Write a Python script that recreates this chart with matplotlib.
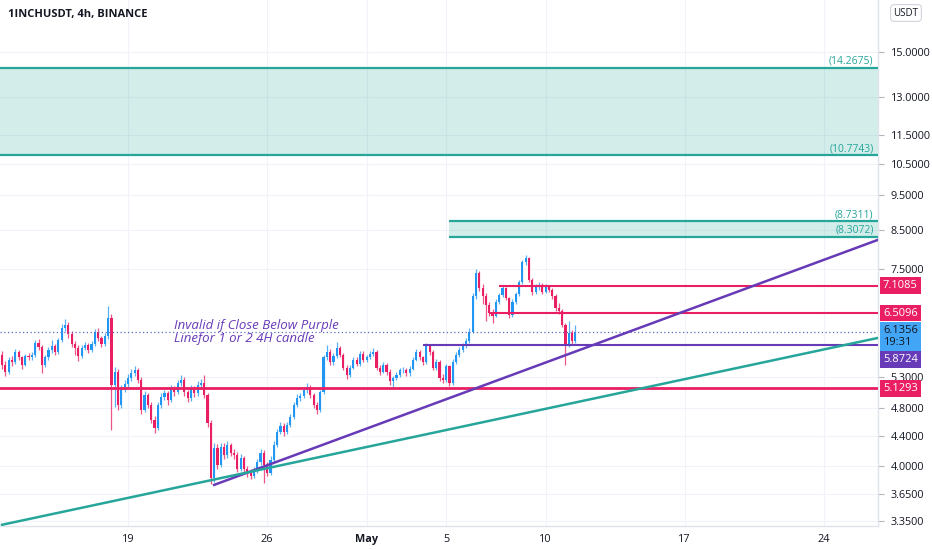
import matplotlib
matplotlib.use("Agg")
import matplotlib.pyplot as plt
import pandas as pd
from matplotlib.ticker import NullLocator

plt.rcParams['font.family'] = ['Open Sans', 'DejaVu Sans']

# ---------------- data ----------------
start = pd.Timestamp('2021-04-12 16:00')
first_open = 5.70
closes = [5.52,5.40,5.61,5.57,5.75,5.65,5.52,5.68,5.65,5.70,
 5.92,5.84,5.52,5.65,5.79,5.86,5.75,5.98,6.21,6.27,
 6.09,5.90,5.83,5.68,5.83,5.88,5.79,5.90,6.13,6.01,
 5.90,6.05,6.41,5.18,5.40,4.85,5.12,5.19,5.29,5.37,
 5.43,5.26,4.78,5.01,4.85,4.63,4.51,4.85,4.98,5.04,
 4.93,5.12,5.06,5.21,5.26,5.06,4.96,5.12,5.04,5.18,
 5.21,5.01,4.58,3.84,4.23,4.01,4.24,4.14,4.27,4.17,
 4.14,3.96,4.10,3.96,3.91,3.87,3.94,4.04,4.17,4.01,
 3.91,4.07,4.27,4.45,4.54,4.45,4.55,4.67,4.85,4.96,
 4.99,5.09,5.14,5.01,4.85,4.78,5.06,5.65,5.75,5.57,
 5.68,5.83,5.70,5.47,5.34,5.47,5.61,5.54,5.72,5.61,
 5.65,5.72,5.75,5.47,5.40,5.52,5.40,5.24,5.29,5.34,
 5.42,5.43,5.37,5.45,5.61,5.75,5.65,5.57,5.86,5.75,
 5.47,5.57,5.29,5.26,5.49,5.21,5.57,5.70,5.79,5.86,
 5.96,6.13,6.88,7.40,7.05,6.88,6.68,6.51,6.45,6.75,
 6.90,7.05,6.83,6.47,6.75,6.92,7.19,7.67,7.77,7.24,
 6.97,7.08,7.12,6.97,7.08,7.01,6.88,6.62,6.56,6.27,
 5.88,6.11,5.96,6.1356]
highs = [5.76,5.58,5.66,5.68,5.80,5.79,5.68,5.72,5.74,5.75,
 5.98,6.00,5.88,5.70,5.84,5.98,5.90,6.02,6.28,6.38,
 6.32,6.14,5.96,5.88,5.88,5.93,5.92,5.95,6.18,6.20,
 6.06,6.10,6.65,6.50,5.48,5.44,5.18,5.26,5.36,5.44,
 5.50,5.47,5.30,5.08,5.05,4.90,4.68,4.90,5.04,5.10,
 5.08,5.18,5.16,5.26,5.34,5.30,5.10,5.18,5.16,5.24,
 5.28,5.34,5.05,4.62,4.30,4.28,4.30,4.30,4.32,4.30,
 4.22,4.18,4.15,4.13,4.00,3.95,3.98,4.08,4.22,4.20,
 4.04,4.12,4.32,4.50,4.60,4.58,4.60,4.72,4.90,5.02,
 5.05,5.14,5.20,5.18,5.04,4.90,5.10,5.70,5.88,5.80,
 5.73,5.93,5.86,5.74,5.52,5.52,5.66,5.66,5.77,5.76,
 5.70,5.77,5.82,5.78,5.52,5.56,5.55,5.44,5.33,5.39,
 5.46,5.48,5.47,5.50,5.66,5.80,5.79,5.68,5.92,5.90,
 5.78,5.62,5.60,5.36,5.54,5.52,5.62,5.75,5.84,5.91,
 6.01,6.20,6.95,7.50,7.45,7.15,6.95,6.75,6.60,6.80,
 6.95,7.10,7.08,6.86,6.80,6.97,7.24,7.72,7.85,7.80,
 7.28,7.14,7.20,7.16,7.14,7.12,7.06,6.92,6.72,6.60,
 6.30,6.35,6.16,6.26]
lows = [5.45,5.33,5.36,5.50,5.53,5.60,5.45,5.49,5.60,5.60,
 5.66,5.78,5.38,5.48,5.60,5.74,5.70,5.72,5.94,6.14,
 6.02,5.84,5.70,5.58,5.64,5.78,5.74,5.75,5.86,5.96,
 5.85,5.86,6.00,4.48,4.82,4.78,4.80,5.06,5.14,5.24,
 5.32,5.20,4.72,4.74,4.80,4.58,4.44,4.48,4.80,4.93,
 4.86,4.90,5.00,5.02,5.16,5.00,4.90,4.92,4.98,5.00,
 5.12,4.96,4.52,3.77,3.80,3.95,3.98,4.08,4.10,4.12,
 4.08,3.92,3.93,3.92,3.86,3.83,3.84,3.91,4.01,3.78,
 3.87,3.88,4.04,4.24,4.42,4.40,4.42,4.52,4.64,4.82,
 4.92,4.96,5.05,4.96,4.80,4.72,4.75,5.03,5.60,5.52,
 5.52,5.64,5.65,5.42,5.28,5.30,5.44,5.50,5.50,5.56,
 5.57,5.62,5.68,5.42,5.35,5.37,5.35,5.18,5.14,5.25,
 5.30,5.38,5.33,5.33,5.42,5.58,5.60,5.52,5.54,5.70,
 5.42,5.43,5.24,5.20,5.22,5.15,5.18,5.54,5.66,5.75,
 5.82,5.92,6.10,6.82,6.98,6.70,6.35,6.45,6.30,6.42,
 6.70,6.85,6.78,6.40,6.44,6.70,6.88,7.15,7.60,7.18,
 6.90,6.92,7.02,6.92,6.94,6.96,6.82,6.56,6.50,6.22,
 5.52,5.84,5.90,5.92]
opens = [first_open] + closes[:-1]

zone_big = (10.7743, 14.2675)
zone_small = (8.3072, 8.7311)
zone_small_start = '2021-05-05 04:00'
res_lines = [(7.1085, '2021-05-07 16:00'), (6.5096, '2021-05-07 04:00')]
support_line = 5.1293
purple_level = (5.8724, '2021-05-03 20:00')
last_price = 6.1356
purple_trend = [('2021-04-23 08:00', 3.76), ('2021-05-28 00:00', 8.48)]
teal_trend = [('2021-04-12 16:00', 3.31), ('2021-05-28 00:00', 6.12)]
ytick_vals = [3.35, 3.65, 4.0, 4.4, 4.8, 5.3, 7.5, 8.5, 9.5, 10.5, 11.5, 13.0, 15.0]
xtick_dates = ['2021-04-19', '2021-04-26', '2021-05-01', '2021-05-05', '2021-05-10', '2021-05-17', '2021-05-24']
xtick_labels = ['19', '26', 'May', '5', '10', '17', '24']

def pos(ts):
    return (pd.Timestamp(ts) - start) / pd.Timedelta(hours=4)

# ---------------- figure ----------------
W, H = 932, 550
fig = plt.figure(figsize=(W / 100, H / 100), dpi=100)
ax = fig.add_axes([0, 1 - 526 / H, 878 / W, 526 / H])
ax.set_yscale('log')
ax.set_ylim(3.297, 17.71)
ax.set_xlim(-0.62, 264.3)

UP, DN = '#2196f3', '#e91e63'
TEAL, PINK, PURP = '#26a69a', '#e91e63', '#673ab7'

# candles
for i, (o, h, l, c) in enumerate(zip(opens, highs, lows, closes)):
    col = UP if c >= o else DN
    ax.vlines(i, l, h, color=col, lw=0.9, alpha=0.75, zorder=2)
    ax.bar(i, abs(c - o) if abs(c - o) > 0.004 else 0.01, bottom=min(o, c),
           width=0.65, color=col, lw=0, zorder=3)

# zones
ax.axhspan(zone_big[0], zone_big[1], color=TEAL, alpha=0.2, lw=0, zorder=1)
for v in zone_big:
    ax.axhline(v, color=TEAL, lw=1.6, zorder=4)
xs = pos(zone_small_start)
ax.fill_between([xs, 300], zone_small[0], zone_small[1], color=TEAL, alpha=0.2, lw=0, zorder=1)
for v in zone_small:
    ax.hlines(v, xs, 300, color=TEAL, lw=1.6, zorder=4)

lab_kw = dict(ha='right', va='bottom', fontsize=7.5, color=TEAL, zorder=6)
for v in list(zone_big) + list(zone_small):
    ax.annotate(f'({v:.4f})', xy=(0.995, v), xycoords=('axes fraction', 'data'),
                xytext=(0, 1), textcoords='offset pixels', **lab_kw)

# horizontal lines
for v, t in res_lines:
    ax.hlines(v, pos(t), 300, color=PINK, lw=1.5, zorder=4)
ax.axhline(support_line, color=PINK, lw=2, zorder=4)
ax.hlines(purple_level[0], pos(purple_level[1]), 300, color=PURP, lw=1.5, zorder=4)
ax.axhline(last_price, color='#5c6bc0', lw=0.9, ls=(0, (1, 2)), zorder=4)

# trend lines
ax.plot([pos(t) for t, _ in purple_trend], [p for _, p in purple_trend], color=PURP, lw=1.8, zorder=5)
ax.plot([pos(t) for t, _ in teal_trend], [p for _, p in teal_trend], color=TEAL, lw=1.8, zorder=5)

# annotation text
ax.text(pos('2021-04-21 08:00'), 6.13, 'Invalid if Close Below Purple\nLinefor 1 or 2 4H candle',
        fontsize=9.5, style='italic', color=PURP, ha='left', va='center', linespacing=0.95, zorder=6)

# axes styling
for s in ['top', 'left']:
    ax.spines[s].set_visible(False)
for s in ['right', 'bottom']:
    ax.spines[s].set_color('#e0e3eb')
    ax.spines[s].set_linewidth(1.0)
ax.yaxis.tick_right()
ax.set_yticks(ytick_vals)
ax.set_yticklabels([f'{v:.4f}' for v in ytick_vals])
ax.yaxis.set_minor_locator(NullLocator())
ax.tick_params(axis='y', which='major', length=4, color='#b2b5be', labelsize=7.8,
               labelcolor='#131722', pad=5)
ax.set_xticks([pos(d) for d in xtick_dates])
ax.set_xticklabels(xtick_labels)
ax.tick_params(axis='x', length=0, labelsize=7.8, labelcolor='#131722', pad=6)
for lab in ax.get_xticklabels():
    if lab.get_text() == 'May':
        lab.set_fontweight('bold')
ax.grid(True, color='#f0f3fa', lw=0.8, zorder=0)
ax.set_axisbelow(True)

# price tags on the axis
def tag(price, text, bg, fg, dy=0):
    ax.annotate(text, xy=(1, price), xycoords=('axes fraction', 'data'),
                xytext=(5, dy), textcoords='offset pixels', ha='left', va='center',
                fontsize=8, color=fg, linespacing=1.2, zorder=10, annotation_clip=False,
                bbox=dict(boxstyle='square,pad=0.25', fc=bg, ec='none'))

tag(res_lines[0][0], f'{res_lines[0][0]:.4f}', PINK, 'white')
tag(res_lines[1][0], f'{res_lines[1][0]:.4f}', PINK, 'white')
tag(last_price, f'{last_price:.4f}\n19:31', '#42a5f5', '#131722', dy=-5)
tag(purple_level[0], f'{purple_level[0]:.4f}', PURP, 'white', dy=-14)
tag(support_line, f'{support_line:.4f}', PINK, 'white', dy=-1)

# title and currency box
fig.text(8 / W, 1 - 14 / H, '1INCHUSDT, 4h, BINANCE', fontsize=8, fontweight='bold',
         color='#131722', ha='left', va='center')
fig.text(906 / W, 1 - 13 / H, 'USDT', fontsize=7, color='#131722', ha='center', va='center',
         bbox=dict(boxstyle='round,pad=0.3,rounding_size=0.4', fc='white', ec='#d1d4dc', lw=0.8))

fig.savefig('out.png', dpi=100)
